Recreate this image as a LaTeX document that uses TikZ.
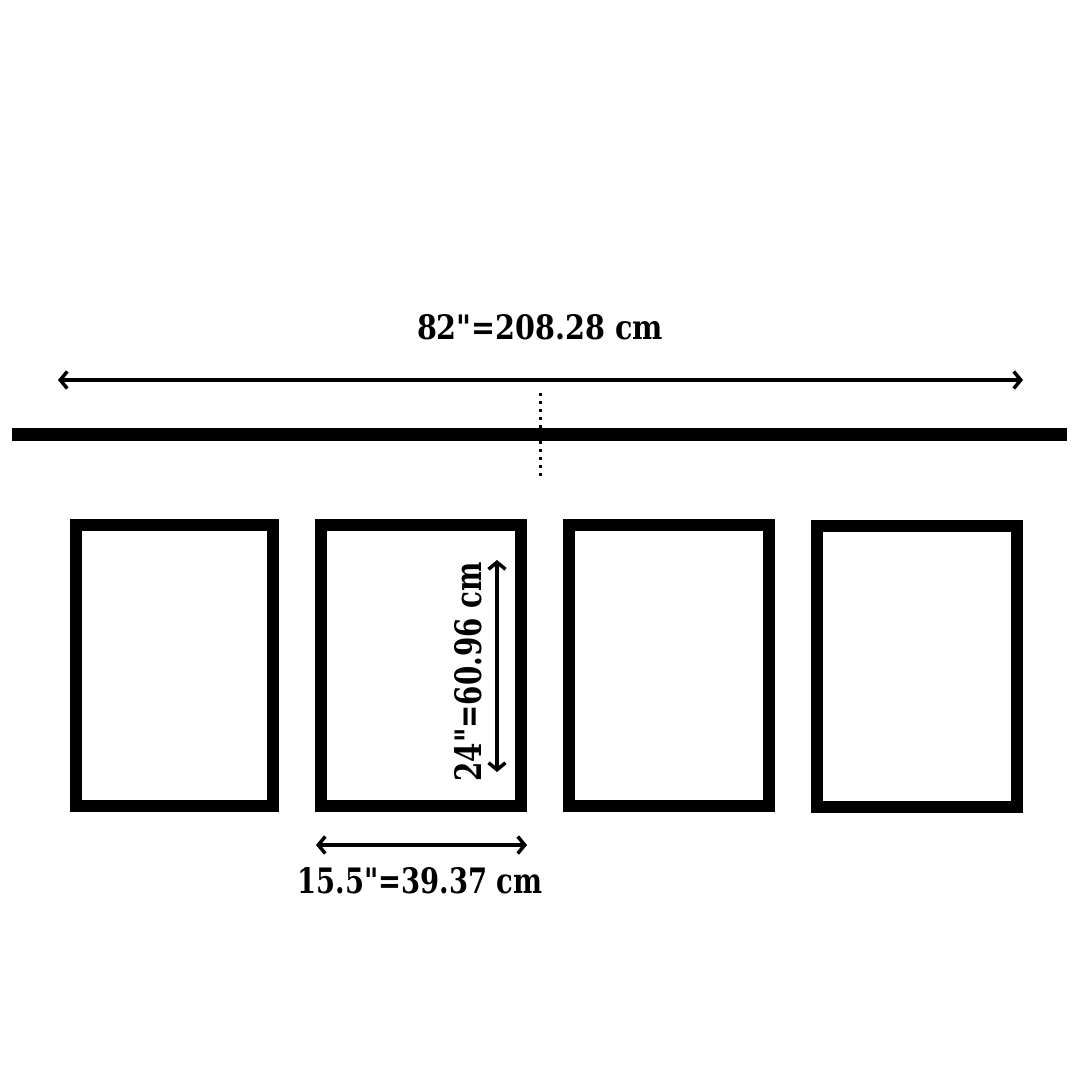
\documentclass[tikz,border=0pt]{standalone}
\usepackage{fontspec}
\usetikzlibrary{arrows.meta}
\newfontfamily\heavy{DejaVu Serif}[UprightFont={* Bold}, Ligatures=NoCommon]
\tikzset{
  frame/.style={draw=black, line width=12pt, minimum width=200pt, minimum height=281pt, inner sep=0pt, outer sep=0pt},
  dimline/.style={line width=3.5pt, line cap=round, {Straight Barb[length=7pt,width=17pt,line width=3.5pt]}-{Straight Barb[length=7pt,width=17pt,line width=3.5pt]}},
  label/.style={font=\heavy\fontsize{32}{32}\selectfont, inner sep=0pt}
}
\begin{document}
\begin{tikzpicture}[x=1pt,y=-1pt]
\useasboundingbox[fill=white] (0,0) rectangle (1080,1080);
% rail
\coordinate (railL) at (12,434);
\coordinate (railR) at (1067,434);
\draw[line width=13pt] (railL) -- (railR);
% overall width arrow
\coordinate (topL) at (58,380);
\coordinate (topR) at (1023,380);
\draw[dimline] (topL) -- (topR);
\node[label] (toplabel) at (540,327) {\resizebox{246pt}{25pt}{82"=208.28 cm}};
% centre dotted mark
\coordinate (dotT) at (540,393);
\coordinate (dotB) at (540,477);
\draw[line width=3pt, dash pattern=on 3pt off 5pt] (dotT) -- (dotB);
% frames
\node[frame, minimum width=197pt] (f1) at (174.5,665.5) {};
\node[frame] (f2) at (421,665.5) {};
\node[frame] (f3) at (669,665.5) {};
\node[frame] (f4) at (917,666.5) {};
% height arrow
\coordinate (hT) at (497,560);
\coordinate (hB) at (497,772);
\draw[dimline] (hT) -- (hB);
\node[label, rotate=90] (hlabel) at (468,672) {\resizebox{219pt}{27pt}{24"=60.96 cm}};
% width arrow
\coordinate (wL) at (316,845);
\coordinate (wR) at (527,845);
\draw[dimline] (wL) -- (wR);
\node[label] (wlabel) at (420,881) {\resizebox{245pt}{26pt}{15.5"=39.37 cm}};
\end{tikzpicture}
\end{document}
